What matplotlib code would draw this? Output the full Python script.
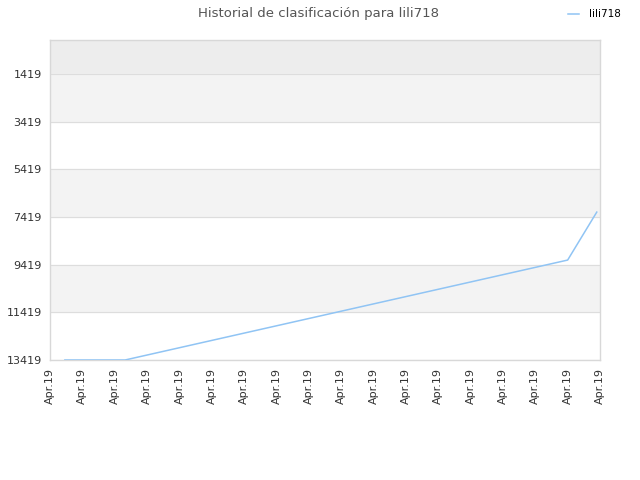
import matplotlib
matplotlib.use("Agg")
import matplotlib.pyplot as plt
import numpy as np

# ranking history (position of lili718), x in tick units
player = "lili718"
x_pos = [0.46, 2.32, 16.0, 16.9]
ranks = [13419, 13419, 9226, 7214]
tick_labels = ["Apr.19"] * 18
y_ticks = [1419, 3419, 5419, 7419, 9419, 11419, 13419]

fig = plt.figure(figsize=(6.4, 4.8), dpi=100)
ax = fig.add_axes([50 / 640, 1 - 360 / 480, 550 / 640, 320 / 480])

ax.set_xlim(0, 17)
ax.set_ylim(13419, -7)

# horizontal bands
ax.axhspan(-7, 1419, color="#ededed", zorder=0)
for lo, hi in [(1419, 3419), (5419, 7419), (9419, 11419)]:
    ax.axhspan(lo, hi, color="#f3f3f3", zorder=0)
for y in y_ticks:
    ax.axhline(y, color="#dddddd", lw=0.8, zorder=1)

ax.plot(x_pos, ranks, color="#90c4f4", lw=1.1, label=player, zorder=3)

ax.set_yticks(y_ticks)
ax.set_yticklabels([str(v) for v in y_ticks], fontsize=8, color="#333333")
ax.set_xticks(np.arange(len(tick_labels)))
ax.set_xticklabels(tick_labels, rotation=90, fontsize=8, color="#333333")
ax.tick_params(length=0, pad=6)
for s in ax.spines.values():
    s.set_color("#d8d8d8")
    s.set_linewidth(1)

fig.text(318 / 640, 1 - 13 / 480, "Historial de clasificación para " + player,
         ha="center", va="center", fontsize=9.5, color="#555555")
fig.legend(loc="upper right", bbox_to_anchor=(0.985, 1.0), frameon=False,
           fontsize=7.5, handlelength=1, handletextpad=1)

fig.savefig("out.png", dpi=100)
